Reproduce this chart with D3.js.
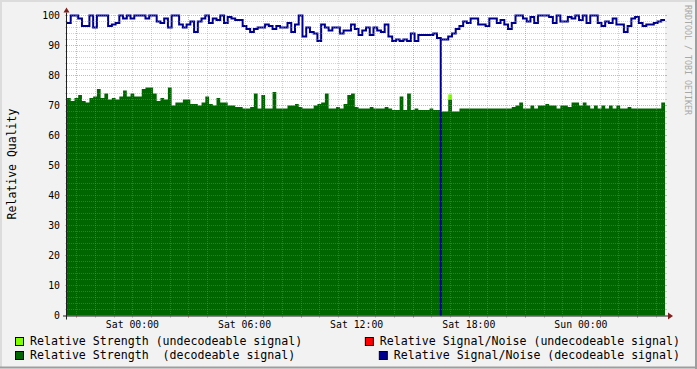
<!DOCTYPE html>
<html>
<head>
<meta charset="utf-8">
<script src="https://cdn.jsdelivr.net/npm/d3@7"></script>
<style>
  body { margin: 0; background: #f2f2f2; }
  text { font-family: "DejaVu Sans Mono", monospace; }
</style>
</head>
<body>
<div id="chart"></div>
<script>
// samples every 12 minutes, starting Fri 20:30
var startTime = new Date(2024, 2, 1, 20, 30);
var stepMinutes = 12;

// Relative Strength (decodeable signal), %
var strength = [
  72.5, 71.5, 72.5, 73.5, 71.5, 71, 72.5, 73, 75.5, 72.5,
  74, 72, 72.5, 72, 73, 75, 73, 74, 73, 73,
  75.5, 76, 76, 74, 71.5, 72.5, 72, 76, 70, 71,
  71, 72, 72, 70.5, 70.5, 70, 71, 73, 70.5, 70,
  72.5, 71, 71, 70, 70, 69.5, 69.5, 69, 69, 69.5,
  74, 69, 73.5, 69, 69, 74.5, 69, 69, 69, 70,
  70, 70.5, 69.5, 69, 69, 69, 70, 70.5, 71, 74,
  69, 69, 69.5, 69, 70.5, 73.5, 74, 69.5, 69, 69,
  69, 69.5, 69, 69, 69, 69.5, 69, 68.5, 68.5, 73,
  68.5, 74, 68.5, 69, 68.5, 68.5, 68.5, 69, 68.5, 68.5,
  68, 68, 72, 68, 68, 69, 69, 69, 69, 69,
  69, 69, 69, 69, 69, 69, 69, 69, 69, 69.5,
  70, 71, 69, 69, 70, 69, 70, 70, 70.5, 70,
  70, 69, 70, 70, 69.5, 71, 71, 70, 71, 70,
  69, 70, 69, 70, 69, 70, 69, 70, 69, 69,
  69.5, 69, 69, 69, 69, 69, 69, 69, 69, 71
];

// Relative Signal/Noise (decodeable signal), %
var signalNoise = [
  97.5, 100, 100, 99, 96.5, 96.5, 100, 96, 100, 100,
  100, 96.5, 97, 97.5, 100, 99, 100, 99, 100, 100,
  100, 99, 100, 100, 98, 97.5, 99, 96, 100, 100,
  97, 96, 97, 98, 94.5, 98, 99, 100, 97.5, 99,
  98.5, 100, 97.5, 99.5, 99, 98.5, 98.5, 96.5, 95.5, 94.5,
  95.5, 96, 96, 97, 96.5, 95.5, 96.5, 96, 96, 97.5,
  94.5, 97, 100, 93, 96, 94.5, 94, 91.5, 97, 96,
  95, 96, 96, 94, 95, 95, 97, 95.5, 93.5, 95,
  96, 93.5, 96, 95, 94.5, 97, 93, 91.5, 92, 91.5,
  92, 91.5, 94, 91.5, 93.5, 93.5, 93.5, 93.5, 94, 92.5,
  92, 92, 93, 94, 95.5, 96.5, 98, 97.5, 99, 99,
  97, 97, 96.5, 99, 99, 97.5, 98.5, 97, 95.5, 97.5,
  100, 100, 99, 98, 99.5, 97.5, 100, 100, 100, 99.5,
  97.5, 100, 98, 98, 99.5, 99, 100, 98.5, 100, 97.5,
  100, 100, 97.5, 96.5, 98, 97.5, 99, 97, 97, 94.5,
  96.5, 99, 99.5, 97.5, 96.5, 97, 97, 97.5, 98, 98.5
];

// Relative Strength (undecodeable signal): [sample index, value] stacked on top
var weakStrength = [[102, 1.7]];

// moments where the decodeable S/N fell to zero
var snDropTimes = [new Date(2024, 2, 2, 16, 30)];

var yTicks = [0, 10, 20, 30, 40, 50, 60, 70, 80, 90, 100];

var legendItems = [
  { label: "Relative Strength (undecodeable signal)", color: "#80ff00", col: 0, row: 0 },
  { label: "Relative Signal/Noise (undecodeable signal)", color: "#ff0000", col: 1, row: 0 },
  { label: "Relative Strength  (decodeable signal)", color: "#006600", col: 0, row: 1 },
  { label: "Relative Signal/Noise (decodeable signal)", color: "#000090", col: 1, row: 1 }
];

var svgWidth = 697;
var svgHeight = 369;
var plot = { left: 67, right: 665, top: 15.5, bottom: 315.5 };

var svg = d3.select("#chart")
  .append("svg")
  .attr("width", svgWidth)
  .attr("height", svgHeight);

// background and 3D frame
svg.append("rect").attr("width", svgWidth).attr("height", svgHeight).attr("fill", "#f2f2f2");
svg.append("path").attr("d", "M0,1H696M1,0V368").attr("stroke", "#dcdcdc").attr("stroke-width", 2);
svg.append("path").attr("d", "M0,367.5H697M696,0V369").attr("stroke", "#9e9e9e").attr("stroke-width", 2);

var times = strength.map((d, i) => d3.timeMinute.offset(startTime, i * stepMinutes));
var endTime = d3.timeMinute.offset(startTime, strength.length * stepMinutes);

var x = d3.scaleTime().domain([startTime, endTime]).range([plot.left, plot.right]);
var y = d3.scaleLinear().domain([0, 100]).range([plot.bottom, plot.top]);

// canvas
svg.append("rect")
  .attr("x", plot.left).attr("y", 14)
  .attr("width", plot.right - plot.left).attr("height", plot.bottom - 14)
  .attr("fill", "#ffffff");

// step series: every sample holds until the next one
var stepData = function(values) {
  var pts = values.map((v, i) => ({ t: times[i], v: v }));
  pts.push({ t: endTime, v: values[values.length - 1] });
  return pts;
};

var strengthArea = d3.area()
  .curve(d3.curveStepAfter)
  .x(d => x(d.t))
  .y0(y(0))
  .y1(d => y(d.v));

svg.append("path")
  .datum(stepData(strength))
  .attr("fill", "#006600")
  .attr("d", strengthArea);

// undecodeable strength stacked on the decodeable one
svg.selectAll(".weak")
  .data(weakStrength)
  .enter()
  .append("rect")
  .attr("class", "weak")
  .attr("fill", "#80ff00")
  .attr("x", d => x(times[d[0]]))
  .attr("width", d => x(d3.timeMinute.offset(times[d[0]], stepMinutes)) - x(times[d[0]]))
  .attr("y", d => y(strength[d[0]] + d[1]))
  .attr("height", d => y(strength[d[0]]) - y(strength[d[0]] + d[1]));

var snLine = d3.line()
  .curve(d3.curveStepAfter)
  .x(d => x(d.t))
  .y(d => y(d.v));

svg.append("path")
  .datum(stepData(signalNoise))
  .attr("fill", "none")
  .attr("stroke", "#000090")
  .attr("stroke-width", 2)
  .attr("d", snLine);

svg.selectAll(".drop")
  .data(snDropTimes)
  .enter()
  .append("path")
  .attr("class", "drop")
  .attr("stroke", "#000090")
  .attr("stroke-width", 2)
  .attr("d", function(d) {
    var i = d3.bisectRight(times, d) - 1;
    return "M" + x(d) + "," + y(signalNoise[i]) + "V" + y(0);
  });

// grid (drawn over the data, like rrdtool)
var gridGroup = svg.append("g").attr("shape-rendering", "crispEdges");
var minorColor = "rgba(143,143,143,0.4)";
var majorColor = "rgba(222,79,79,0.5)";

function hLine(v, color) {
  var yy = y(v);
  gridGroup.append("path").attr("d", `M${plot.left - 2},${yy}H${plot.left}M${plot.right},${yy}H${plot.right + 2}`)
    .attr("stroke", color);
  gridGroup.append("path").attr("d", `M${plot.left},${yy}H${plot.right}`)
    .attr("stroke", color).attr("stroke-dasharray", "1,1");
}
function vLine(t, color) {
  var xx = Math.round(x(t)) + 0.5;
  gridGroup.append("path").attr("d", `M${xx},${plot.bottom + 0.5}V${plot.bottom + 2.5}`)
    .attr("stroke", color);
  gridGroup.append("path").attr("d", `M${xx},${plot.top - 0.5}V${plot.bottom + 0.5}`)
    .attr("stroke", color).attr("stroke-dasharray", "1,1");
}

d3.range(2, 100, 2).filter(v => v % 10 !== 0).forEach(v => hLine(v, minorColor));
yTicks.filter(v => v > 0).forEach(v => hLine(v, majorColor));

var hours = d3.timeHour.range(startTime, endTime);
hours.filter(d => d.getHours() % 6 !== 3).forEach(d => vLine(d, minorColor));
hours.filter(d => d.getHours() % 6 === 3).forEach(d => vLine(d, majorColor));

// axes
var axisColor = "#1f1f1f";
var arrowColor = "#801f1f";
svg.append("path").attr("d", `M${plot.left - 4},${plot.bottom + 0.5}H${plot.right + 4}`)
  .attr("stroke", axisColor);
svg.append("path").attr("d", `M${plot.left - 0.5},${plot.bottom + 4}V${plot.top - 3}`)
  .attr("stroke", axisColor);
svg.append("path").attr("d", `M${plot.right + 3},${plot.bottom - 3}L${plot.right + 8},${plot.bottom + 0.5}L${plot.right + 3},${plot.bottom + 4}Z`)
  .attr("fill", arrowColor);
svg.append("path").attr("d", `M${plot.left - 3.5},${plot.top - 3}L${plot.left - 0.5},${plot.top - 8}L${plot.left + 2.5},${plot.top - 3}Z`)
  .attr("fill", arrowColor);

// y tick labels
svg.selectAll(".ylab")
  .data(yTicks)
  .enter()
  .append("text")
  .attr("class", "ylab")
  .attr("x", 60)
  .attr("y", d => y(d))
  .attr("dy", "0.36em")
  .attr("text-anchor", "end")
  .attr("font-size", "9.8px")
  .attr("fill", "#000")
  .text(d => d);

// x tick labels
var fmt = d3.timeFormat("%a %H:%M");
var labelTimes = hours.filter(d => d.getHours() % 6 === 0);
svg.selectAll(".xlab")
  .data(labelTimes)
  .enter()
  .append("text")
  .attr("class", "xlab")
  .attr("x", d => x(d))
  .attr("y", 327.5)
  .attr("text-anchor", "middle")
  .attr("font-size", "9.8px")
  .attr("fill", "#000")
  .text(d => fmt(d));

// y title
svg.append("text")
  .attr("transform", "translate(15.5,164) rotate(-90)")
  .attr("text-anchor", "middle")
  .attr("font-size", "11.5px")
  .attr("fill", "#000")
  .text("Relative Quality");

// watermark
svg.append("text")
  .attr("transform", "translate(685,5) rotate(90)")
  .attr("font-size", "8.3px")
  .attr("fill", "#a8a8a8")
  .text("RRDTOOL / TOBI OETIKER");

// legend
var legend = svg.append("g");
legendItems.forEach(function(item) {
  var baseY = 345 + item.row * 14;
  var txt = legend.append("text")
    .attr("y", baseY)
    .attr("font-size", "11.6px")
    .attr("fill", "#000")
    .attr("xml:space", "preserve")
    .style("white-space", "pre")
    .text(item.label);
  var tx;
  if (item.col === 0) {
    tx = 30;
  } else {
    tx = 680 - txt.node().getComputedTextLength();
  }
  txt.attr("x", tx);
  legend.append("rect")
    .attr("x", tx - 14.5)
    .attr("y", baseY - 7.5)
    .attr("width", 8)
    .attr("height", 8)
    .attr("fill", item.color)
    .attr("stroke", "#000");
});
</script>
</body>
</html>
